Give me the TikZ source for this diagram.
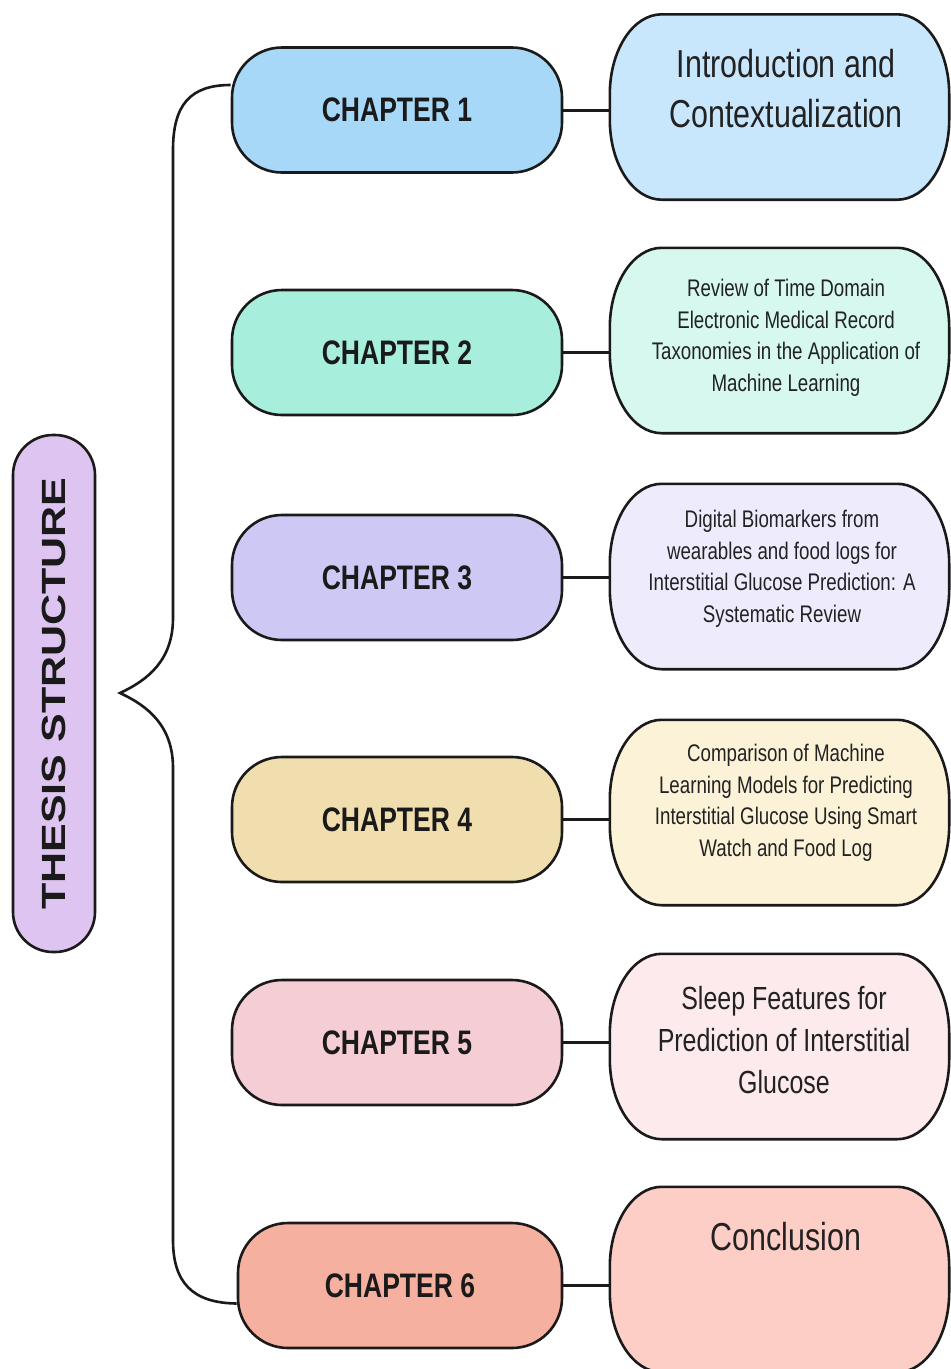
\documentclass[tikz,border=0pt]{standalone}
\usepackage{fontspec}
\setmainfont{Liberation Sans}
\newfontfamily\nf[FakeStretch=0.78]{Liberation Sans}
\definecolor{outl}{HTML}{1A1A1A}
\definecolor{txtc}{HTML}{222222}
\definecolor{titlef}{HTML}{DEC4F0}
\definecolor{cA}{HTML}{A8D8F8}\definecolor{rA}{HTML}{C8E6FC}
\definecolor{cB}{HTML}{A8EEDC}\definecolor{rB}{HTML}{D6F8EE}
\definecolor{cC}{HTML}{CDC8F4}\definecolor{rC}{HTML}{EEECFC}
\definecolor{cD}{HTML}{F0DEAF}\definecolor{rD}{HTML}{FCF2D8}
\definecolor{cE}{HTML}{F5CDD4}\definecolor{rE}{HTML}{FCEAEC}
\definecolor{cF}{HTML}{F6B0A0}\definecolor{rF}{HTML}{FCCEC6}
% elliptical-cornered outline around a (sized, invisible) node
\newcommand\ellbox[2]{%
 \draw[boxline, fill=#2]
  ([xshift=52pt]#1.north west) -- ([xshift=-52pt]#1.north east)
  .. controls ([xshift=-23pt]#1.north east) and ([yshift=-36pt]#1.north east) .. ([yshift=-80pt]#1.north east)
  -- ([yshift=80pt]#1.south east)
  .. controls ([yshift=36pt]#1.south east) and ([xshift=-23pt]#1.south east) .. ([xshift=-52pt]#1.south east)
  -- ([xshift=52pt]#1.south west)
  .. controls ([xshift=23pt]#1.south west) and ([yshift=36pt]#1.south west) .. ([yshift=80pt]#1.south west)
  -- ([yshift=-80pt]#1.north west)
  .. controls ([yshift=-36pt]#1.north west) and ([xshift=23pt]#1.north west) .. cycle;}
\begin{document}
\begin{tikzpicture}[x=1pt,y=-1pt,
  boxline/.style={draw=outl, line width=2.6pt},
  chap/.style={boxline, rounded corners=50pt,
    minimum width=330pt, minimum height=125pt, inner sep=0pt,
    font=\nf\bfseries\fontsize{34}{40}\selectfont, text=outl},
  desc/.style={minimum width=339pt, minimum height=185pt, inner sep=0pt},
  bigtxt/.style={align=center, text=txtc, font=\nf\fontsize{39}{50}\selectfont},
  midtxt/.style={align=center, text=txtc, font=\nf\fontsize{32}{42}\selectfont},
  smalltxt/.style={align=center, text=txtc, font=\nf\fontsize{24}{31.5}\selectfont},
  conn/.style={draw=outl, line width=3pt},
  bracel/.style={draw=outl, line width=2.6pt},
  titlebox/.style={boxline, fill=titlef, rounded corners=40pt,
    minimum width=517pt, minimum height=82pt, inner sep=0pt, rotate=90,
    font=\bfseries\fontsize{43}{50}\selectfont, text=outl}
]
\useasboundingbox (0,0) rectangle (951,1369);
\clip (0,0) rectangle (951,1369);
\fill[white] (0,0) rectangle (951,1369);

% title
\node[titlebox] (title) at (54,693.5) {\scalebox{1}[0.78]{THESIS STRUCTURE}};

% chapter boxes
\node[chap, fill=cA] (c1) at (397,110) {CHAPTER 1};
\node[chap, fill=cB] (c2) at (397,352.5) {CHAPTER 2};
\node[chap, fill=cC] (c3) at (397,577.5) {CHAPTER 3};
\node[chap, fill=cD] (c4) at (397,819.5) {CHAPTER 4};
\node[chap, fill=cE] (c5) at (397,1042.5) {CHAPTER 5};
\node[chap, fill=cF, minimum width=324pt] (c6) at (400,1285.5) {CHAPTER 6};

% description boxes
\node[desc] (r1) at (779.5,107) {};
\node[desc] (r2) at (779.5,340.5) {};
\node[desc] (r3) at (779.5,576.5) {};
\node[desc] (r4) at (779.5,812.5) {};
\node[desc] (r5) at (779.5,1046.5) {};
\node[desc] (r6) at (779.5,1279.5) {};
\ellbox{r1}{rA}
\ellbox{r2}{rB}
\ellbox{r3}{rC}
\ellbox{r4}{rD}
\ellbox{r5}{rE}
\ellbox{r6}{rF}

% description texts
\node[bigtxt] (t1) at (786,89) {Introduction and\\Contextualization};
\node[smalltxt] (t2) at (786,338) {Review of Time Domain\\Electronic Medical Record\\Taxonomies in the Application of\\Machine Learning};
\node[smalltxt] (t3) at (782,569) {Digital Biomarkers from\\wearables and food logs for\\Interstitial Glucose Prediction: A\\Systematic Review};
\node[smalltxt] (t4) at (786,803) {Comparison of Machine\\Learning Models for Predicting\\Interstitial Glucose Using Smart\\Watch and Food Log};
\node[midtxt] (t5) at (784,1040) {Sleep Features for\\Prediction of Interstitial\\Glucose};
\node[bigtxt] (t6) at (786,1237) {Conclusion};

% connectors
\foreach \i in {1,...,6}{
  \draw[conn] (c\i.east) -- (c\i.east -| r\i.west);
}

% brace
\coordinate (btop) at ([yshift=25pt]c1.west);
\coordinate (bbot) at ([yshift=-18pt]c6.west);
\coordinate (tip) at (120,693);
\draw[bracel] (btop) .. controls (190,85) and (173,105) .. (173,150)
  -- (173,618) .. controls (173,660) and (148,680) .. (tip)
  .. controls (148,706) and (173,726) .. (173,768)
  -- (173,1240) .. controls (173,1282) and (192,1303) .. (bbot);
\end{tikzpicture}
\end{document}
